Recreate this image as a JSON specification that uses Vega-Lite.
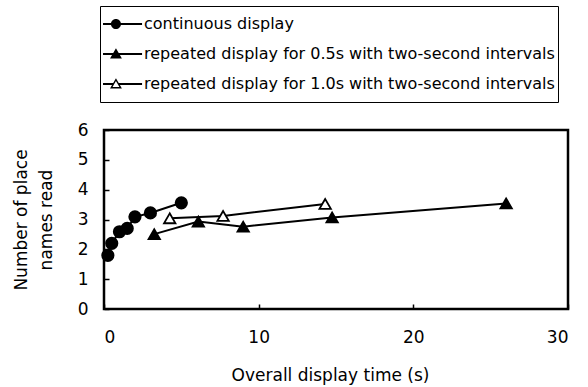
{
  "$schema": "https://vega.github.io/schema/vega-lite/v6.json",
  "width": 464,
  "height": 179,
  "autosize": {"type": "none"},
  "padding": {"left": 104, "top": 130, "right": 20, "bottom": 78},
  "background": "white",
  "config": {
    "view": {"stroke": "black", "strokeWidth": 2.5},
    "font": "DejaVu Sans",
    "axis": {
      "labelFont": "DejaVu Sans", "labelFontSize": 17, "labelColor": "black",
      "titleFont": "DejaVu Sans", "titleFontSize": 17, "titleColor": "black", "titleFontWeight": "normal",
      "grid": false, "domain": false, "tickColor": "black", "tickWidth": 1.5, "tickSize": -5
    }
  },
  "data": {"values": [
    {"series": "continuous display", "x": 0.25, "y": 1.8},
    {"series": "continuous display", "x": 0.5, "y": 2.2},
    {"series": "continuous display", "x": 1.0, "y": 2.59},
    {"series": "continuous display", "x": 1.5, "y": 2.7},
    {"series": "continuous display", "x": 2.0, "y": 3.09},
    {"series": "continuous display", "x": 3.0, "y": 3.22},
    {"series": "continuous display", "x": 5.0, "y": 3.56},
    {"series": "repeated display for 0.5s with two-second intervals", "x": 3.25, "y": 2.51},
    {"series": "repeated display for 0.5s with two-second intervals", "x": 6.1, "y": 2.93},
    {"series": "repeated display for 0.5s with two-second intervals", "x": 9.0, "y": 2.76},
    {"series": "repeated display for 0.5s with two-second intervals", "x": 14.75, "y": 3.07},
    {"series": "repeated display for 0.5s with two-second intervals", "x": 26.0, "y": 3.54},
    {"series": "repeated display for 1.0s with two-second intervals", "x": 4.25, "y": 3.04},
    {"series": "repeated display for 1.0s with two-second intervals", "x": 7.7, "y": 3.12},
    {"series": "repeated display for 1.0s with two-second intervals", "x": 14.3, "y": 3.52}
  ]},
  "encoding": {
    "x": {"field": "x", "type": "quantitative",
      "scale": {"domain": [0, 30], "nice": false},
      "axis": {"values": [0, 10, 20, 30], "title": "Overall display time (s)", "labelPadding": 25, "titlePadding": 22, "titleX": 226}},
    "y": {"field": "y", "type": "quantitative",
      "scale": {"domain": [0, 6], "nice": false},
      "axis": {"values": [0, 1, 2, 3, 4, 5, 6], "title": ["Number of place", "names read"], "labelPadding": 21, "titlePadding": 22, "titleLineHeight": 25}}
  },
  "layer": [
    {
      "mark": {"type": "line", "color": "black", "strokeWidth": 2},
      "encoding": {"detail": {"field": "series"}}
    },
    {
      "mark": {"type": "point", "stroke": "black", "strokeWidth": 1.8, "opacity": 1, "fillOpacity": 1},
      "encoding": {
        "shape": {"field": "series", "type": "nominal",
          "scale": {"domain": ["continuous display", "repeated display for 0.5s with two-second intervals", "repeated display for 1.0s with two-second intervals"],
                    "range": ["circle", "triangle-up", "triangle-up"]},
          "legend": null},
        "fill": {"field": "series", "type": "nominal",
          "scale": {"domain": ["continuous display", "repeated display for 0.5s with two-second intervals", "repeated display for 1.0s with two-second intervals"],
                    "range": ["black", "black", "white"]},
          "legend": null},
        "size": {"value": 130}
      }
    },
    {
      "transform": [{"filter": "datum.x < 0"}],
      "mark": {"type": "point", "filled": true, "color": "black"},
      "encoding": {
        "shape": {"field": "series", "type": "nominal",
          "scale": {"domain": ["continuous display", "repeated display for 0.5s with two-second intervals", "repeated display for 1.0s with two-second intervals"],
                    "range": [
                      "M-1.28,-0.055H1.17V0.055H-1.28ZM-0.56,0A0.28,0.28 0 1,1 0,0A0.28,0.28 0 1,1 -0.56,0Z",
                      "M-1.28,-0.055H1.17V0.055H-1.28ZM-0.61,0.25L-0.28,-0.32L0.05,0.25Z",
                      "M-1.28,-0.055H-0.42V0.055H-1.28ZM-0.14,-0.055H1.17V0.055H-0.14ZM-0.61,0.25L-0.28,-0.32L0.05,0.25ZM-0.47,0.16L-0.09,0.16L-0.28,-0.17Z"
                    ]},
          "legend": {
            "title": null, "orient": "none", "legendX": -4, "legendY": -124,
            "strokeColor": "black", "padding": 3, "symbolSize": 1296, "clipHeight": 30, "rowPadding": 0,
            "labelFont": "DejaVu Sans", "labelFontSize": 16, "labelColor": "black", "labelOffset": 5, "labelLimit": 0,
            "symbolFillColor": "black", "symbolStrokeWidth": 0, "symbolOpacity": 1
          }}
      }
    }
  ],
  "resolve": {"scale": {"shape": "independent"}}
}
